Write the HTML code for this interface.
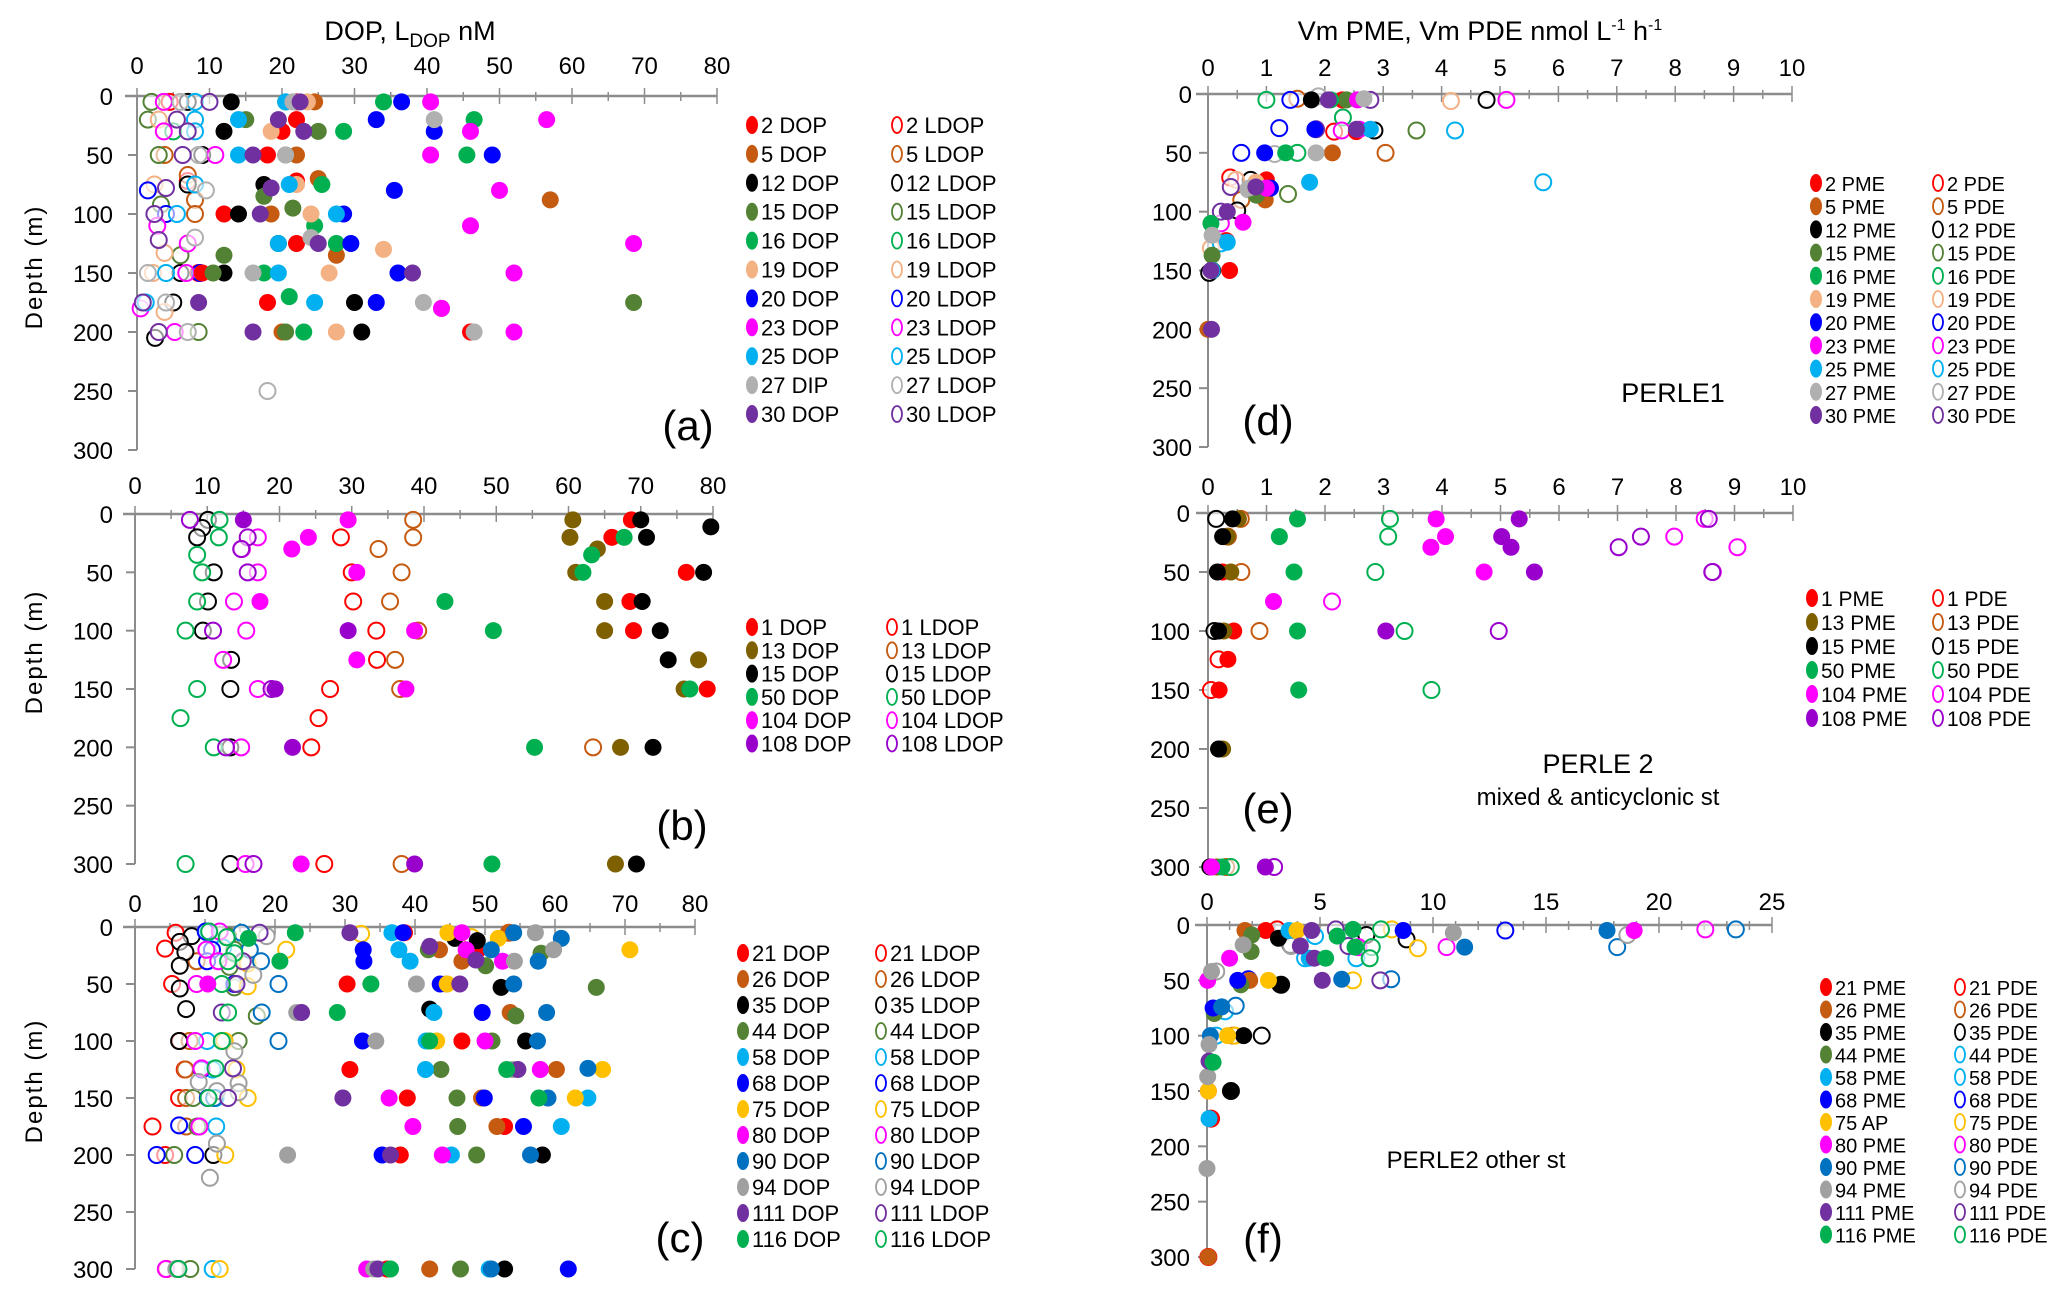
<!DOCTYPE html>
<html><head><meta charset="utf-8">
<style>
html,body{margin:0;padding:0;background:#fff;}
svg{display:block;font-family:"Liberation Sans",Arial,sans-serif;}
</style></head>
<body>
<svg id="chart" width="2067" height="1296" viewBox="0 0 2067 1296" xmlns="http://www.w3.org/2000/svg">
<rect width="2067" height="1296" fill="#fff"/>
<text x="410" y="40" font-size="27" text-anchor="middle">DOP, L<tspan font-size="19" dy="7">DOP</tspan><tspan dy="-7"> nM</tspan></text>
<text x="1480" y="40" font-size="27" text-anchor="middle">Vm PME, Vm PDE nmol L<tspan font-size="16" dy="-10">-1</tspan><tspan dy="10"> h</tspan><tspan font-size="16" dy="-10">-1</tspan></text>
<text x="1673" y="402" font-size="27" text-anchor="middle">PERLE1</text>
<text x="1598" y="773" font-size="27" text-anchor="middle">PERLE 2</text>
<text x="1598" y="805" font-size="24" text-anchor="middle">mixed &amp; anticyclonic st</text>
<text x="1476" y="1168" font-size="24" text-anchor="middle">PERLE2 other st</text>
<g id="plots"></g>
</svg>
<script>
// ---------- Panel (a) data: [depth, value] ----------
const A_NAMES = ["2","5","12","15","16","19","20","23","25","27","30"];
const A_DOP = [
 [[5,22],[20,22],[30,20],[50,18],[72,22],[100,12],[125,22],[150,9],[175,18],[200,46]],
 [[5,24.5],[50,22],[70,25],[88,57],[100,18.5],[135,27.5],[180,42],[200,20]],
 [[5,13],[30,12],[75,17.5],[100,14],[125,19.5],[150,12],[175,30],[200,31]],
 [[5,20.5],[20,15],[30,25],[50,20.5],[85,17.5],[95,21.5],[135,12],[150,10.5],[175,68.5],[200,20.5]],
 [[5,34],[20,46.5],[30,28.5],[50,45.5],[75,25.5],[110,24.5],[125,27.5],[150,17.5],[170,21],[200,23]],
 [[5,23.5],[30,18.5],[75,22],[100,24],[130,34],[150,26.5],[200,27.5]],
 [[5,36.5],[20,33],[30,41],[50,49],[80,35.5],[100,28.5],[125,29.5],[150,36],[175,33]],
 [[5,40.5],[20,56.5],[30,46],[50,40.5],[80,50],[110,46],[125,68.5],[150,52],[180,42],[200,52]],
 [[5,20.5],[20,14],[50,14],[75,21],[100,27.5],[125,19.5],[150,19.5],[175,24.5]],
 [[5,21.5],[20,41],[50,20.5],[120,24],[150,16],[175,39.5],[200,46.5]],
 [[5,22.5],[20,19.5],[30,23],[50,16],[78,18.5],[100,17],[125,25],[150,38],[175,8.5],[200,16]]
];
const A_LDOP = [
 [[5,4.5],[72,7],[150,8.5]],
 [[67,7],[88,8],[100,8],[50,3.8]],
 [[5,7],[75,7],[175,5],[205,2.5],[150,6],[50,9]],
 [[20,1.5],[50,3],[92,3.3],[135,6],[5,2],[200,8.5]],
 [[30,5]],
 [[20,3],[75,2.4],[133,3.8],[183,3.8],[150,2.2]],
 [[80,1.5],[100,4],[150,8.7]],
 [[5,3.7],[30,3.7],[50,10.8],[110,2.8],[125,7],[150,6.8],[180,0.5],[200,5.2]],
 [[5,8],[20,8],[30,8],[75,8],[100,5.5],[150,4],[175,1.2]],
 [[5,6],[50,8.5],[80,9.5],[120,8],[150,1.5],[175,4],[200,7],[250,18]],
 [[5,10],[20,5.5],[30,7],[50,6.3],[78,4],[100,2.4],[122,3],[175,0.8],[200,3]]
];
// ---------- Panel (b) ----------
const B_NAMES = ["1","13","15","50","104","108"];
const B_DOP = [
 [[5,68.7],[20,66],[50,76.3],[75,68.5],[100,69],[150,79.2]],
 [[5,60.6],[20,60.2],[30,64],[50,61],[75,65],[100,65],[125,78],[150,76],[200,67.2],[300,66.5]],
 [[5,70],[11,79.7],[20,70.8],[50,78.7],[75,70.2],[100,72.7],[125,73.8],[200,71.7],[300,69.4]],
 [[20,67.7],[35,63.2],[50,62],[75,42.9],[100,49.6],[150,76.8],[200,55.3],[300,49.4]],
 [[5,29.5],[20,24],[30,21.7],[50,30.7],[75,17.3],[100,38.7],[125,30.7],[150,37.5],[300,23]],
 [[5,15],[100,29.5],[150,19.4],[200,21.8],[300,38.7]]
];
const B_LDOP = [
 [[20,28.5],[50,30],[75,30.2],[100,33.4],[125,33.5],[150,27],[175,25.4],[200,24.4],[300,26.2]],
 [[5,38.5],[20,38.5],[30,33.7],[50,36.9],[75,35.3],[100,39.2],[125,36],[150,36.7],[200,63.4],[300,36.9]],
 [[5,10.1],[12,9.3],[20,8.6],[50,10.9],[75,10.1],[100,9.4],[125,13.3],[150,13.2],[200,13.2],[300,13.2]],
 [[5,11.7],[20,11.6],[35,8.6],[50,9.3],[75,8.6],[100,7],[150,8.6],[175,6.3],[200,10.9],[300,7]],
 [[20,17],[30,14.8],[50,17],[75,13.7],[100,15.4],[125,12.2],[150,17],[200,14.7],[300,15.3]],
 [[5,7.6],[20,15.6],[30,14.7],[50,15.6],[100,10.8],[150,18.9],[200,12.6],[300,16.4]]
];
// ---------- Panel (c) ----------
const C_NAMES = ["21","26","35","44","58","68","75","80","90","94","111","116"];
const C_DOP = [
 [[5,38.5],[20,49],[50,30.3],[100,46.7],[125,30.7],[150,38.9],[175,52.8],[200,37.9],[300,36]],
 [[20,43.5],[30,46.7],[50,44.5],[75,53.6],[125,60.2],[150,49.5],[175,51.7],[300,42.1],[5,53.6]],
 [[10,45.7],[12,48.9],[53,52.3],[72,42.1],[100,55.8],[200,58.2],[300,52.8]],
 [[20,41.9],[34,50.1],[53,65.9],[78,54.4],[100,51],[125,43.7],[150,46],[175,46.1],[200,48.8],[300,46.5],[23,58]],
 [[5,36.7],[20,37.7],[30,39.3],[75,42.7],[100,41.6],[125,41.5],[150,64.7],[175,60.9],[200,45.2],[300,50.6]],
 [[5,38.3],[20,32.6],[30,32.7],[50,43.6],[75,49.6],[100,32.5],[150,49.9],[175,55.5],[200,35.3],[300,61.9]],
 [[5,44.7],[10,51.9],[20,70.7],[50,44.6],[100,43.1],[125,66.8],[150,62.9]],
 [[5,46.7],[20,47.3],[30,52.5],[50,10.4],[100,50],[125,57.9],[150,36.3],[175,39.7],[200,43.9],[300,33.1]],
 [[5,54.1],[10,60.9],[20,50.9],[30,57.6],[50,54.1],[75,58.8],[100,57.5],[124,64.7],[150,59],[200,56.5],[300,50.9]],
 [[5,57.2],[20,59.8],[30,54.2],[50,40.2],[75,23.1],[100,34.4],[125,54],[200,21.8],[300,34.1]],
 [[5,30.7],[17,42.1],[29,48.7],[50,46.4],[75,23.8],[125,54.7],[150,29.7],[200,36.5],[300,34.7]],
 [[5,22.9],[10,16.2],[30,20.7],[50,33.7],[75,28.9],[100,42.1],[125,53.1],[150,57.7],[300,36.5]]
];
const C_LDOP = [
 [[5,5.8],[19,4.3],[50,5.3],[100,6.4],[125,7.1],[150,6.3],[175,2.5],[200,4.3],[300,4.5]],
 [[30,8.8],[100,7.8],[125,7.2],[150,7.3],[175,7.3],[5,53.4]],
 [[8,8.1],[13,6.4],[22,7.2],[34,6.4],[54,6.4],[72,7.3],[100,6.3],[200,11.2],[300,6.2]],
 [[8,13.3],[20,14.2],[35,13.5],[53,14.2],[78,17.4],[100,14.8],[150,8.3],[175,8.9],[200,5.6],[300,7.9]],
 [[5,10.4],[18,12.6],[100,10.3],[125,11.1],[150,11.5],[175,11.6],[300,11.1]],
 [[4,10.1],[20,11],[30,10.3],[50,14.2],[125,9.5],[150,10.4],[174,6.3],[200,3.1],[200,8.6]],
 [[6,32.3],[9,48.1],[20,21.6],[32,16.1],[52,16.1],[100,12.8],[125,14.5],[150,16.1],[200,12.9],[300,12.1]],
 [[4,12.1],[20,10.2],[30,11.9],[50,8.8],[100,8.6],[124,9.5],[175,9.2],[300,4.4]],
 [[5,15.2],[20,16.4],[30,18],[50,20.5],[75,18.1],[100,20.5],[150,11.3]],
 [[8,18.8],[42,16.9],[109,14.2],[136,9.1],[137,14.8],[144,11.7],[145,14.8],[190,11.7],[220,10.7],[300,5.9]],
 [[5,17.8],[30,15.4],[50,14.5],[75,12.4],[124,14],[150,13.3]],
 [[4,10.6],[9,13.1],[23,14.2],[30,13.3],[50,12.4],[75,13.3],[100,12.4],[124,11.5],[150,10.5],[300,6.2]]
];
// ---------- Panel (d) ----------
const D_NAMES = A_NAMES;
const D_PME = [
 [[5,2.3],[73,1],[150,0.37],[32,2.54]],
 [[50,2.13],[90,0.98],[200,0]],
 [[5,1.77],[150,0.08]],
 [[5,2.37],[86,0.83],[137,0.07]],
 [[5,2.1],[50,1.33],[110,0.05]],
 [[75,0.82]],
 [[30,1.83],[50,0.97],[80,1.07]],
 [[5,2.56],[30,2.6],[80,1],[109,0.6]],
 [[30,2.78],[75,1.74],[126,0.33],[150,0.07]],
 [[4,2.67],[50,1.85],[80,0.7],[120,0.07]],
 [[5,2.06],[30,2.54],[79,0.82],[100,0.33],[150,0.05],[200,0.06]]
];
const D_PDE = [
 [[32,2.16],[71,0.38],[125,0.31]],
 [[4,1.53],[50,3.04],[90,0.57]],
 [[5,4.77],[31,2.85],[73,0.73],[99,0.5],[152,0.02]],
 [[31,3.57],[85,1.37]],
 [[5,1],[20,2.31],[50,1.53]],
 [[6,4.16],[73,0.48],[131,0.05]],
 [[5,1.41],[29,1.22],[50,0.57]],
 [[5,5.11],[31,2.29],[110,0.22]],
 [[31,4.23],[75,5.74],[127,0.22]],
 [[2,1.89],[51,1.14],[81,0.69]],
 [[5,2.78],[30,1.85],[79,0.39],[100,0.22]]
];
// ---------- Panel (e) ----------
const E_NAMES = B_NAMES;
const E_PME = [
 [[100,0.44],[124,0.34],[150,0.19],[300,0.06],[50,0.25]],
 [[5,0.52],[20,0.33],[50,0.39],[100,0.27],[200,0.25],[300,0.15]],
 [[5,0.42],[20,0.25],[50,0.16],[100,0.18],[200,0.18],[300,0.03]],
 [[5,1.53],[20,1.22],[50,1.47],[100,1.53],[150,1.55],[300,0.24]],
 [[5,3.9],[20,4.06],[29,3.81],[50,4.72],[75,1.12],[300,0.06]],
 [[5,5.32],[20,5.02],[29,5.18],[50,5.58],[100,3.04],[300,0.98]]
];
const E_PDE = [
 [[124,0.18],[150,0.05]],
 [[5,0.56],[20,0.34],[50,0.57],[100,0.88],[300,0.31]],
 [[5,0.14],[100,0.11]],
 [[5,3.11],[20,3.08],[50,2.86],[100,3.36],[150,3.82],[300,0.39]],
 [[5,8.49],[20,7.97],[29,9.05],[50,8.63],[75,2.12]],
 [[5,8.56],[20,7.4],[29,7.02],[50,8.62],[100,4.97],[300,1.13]]
];
// ---------- Panel (f) ----------
const F_NAMES = C_NAMES;
const F_PME = [
 [[5,2.6],[175,0.12],[300,0.06],[150,0.06]],
 [[5,1.68],[50,1.89],[300,0.06]],
 [[12,3.16],[54,3.22],[100,1.62],[150,1.06]],
 [[9,1.98],[24,1.95],[54,1.5],[80,0.32]],
 [[5,3.63],[30,4.52],[175,0.09]],
 [[5,8.68],[50,1.36],[75,0.27]],
 [[5,3.98],[50,2.72],[100,0.91],[150,0.06]],
 [[5,18.9],[30,1],[50,0.03]],
 [[5,17.7],[20,11.4],[49,5.96],[74,0.65],[100,0.15]],
 [[7,10.9],[18,1.6],[42,0.2],[108,0.09],[137,0.03],[220,0]],
 [[5,4.63],[19,4.13],[30,4.75],[50,5.1],[123,0.09]],
 [[4,6.46],[10,5.76],[20,6.55],[30,5.25],[124,0.27]]
];
const F_PDE = [
 [[4,3.1],[175,0.18],[300,0.06]],
 [[100,1.15]],
 [[9,7.05],[13,8.83],[18,3.69],[54,3.28],[100,2.42],[150,1.06]],
 [[10,4.78],[30,6.61],[100,0.41]],
 [[30,4.34],[78,0.8]],
 [[5,13.2],[49,1.83]],
 [[4,8.18],[21,9.33],[50,6.46],[100,1.24]],
 [[4,22.05],[20,10.6],[20,6.7]],
 [[4,23.4],[20,18.15],[49,8.15],[73,1.27]],
 [[9,18.6],[19,3.72],[42,0.41]],
 [[4,5.7],[19,6.26],[50,7.67]],
 [[4,7.7],[20,7.29],[30,7.2]]
];
const X_TICKS_DOP = [0,10,20,30,40,50,60,70,80];
const X_TICKS_VM = [0,1,2,3,4,5,6,7,8,9,10];
const X_TICKS_F = [0,5,10,15,20,25];
const Y_TICKS = [0,50,100,150,200,250,300];

const COL_A = ["#ff0000","#c55a11","#000000","#548235","#00b050","#f4b183","#0000ff","#ff00ff","#00b0f0","#b0b0b0","#7030a0"];
const COL_B = ["#ff0000","#7f6000","#000000","#00b050","#ff00ff","#9900cc"];
const COL_B_OPEN = ["#ff0000","#c55a11","#000000","#00b050","#ff00ff","#9900cc"];
const COL_C = ["#ff0000","#c55a11","#000000","#548235","#00b0f0","#0000ff","#ffc000","#ff00ff","#0070c0","#a0a0a0","#7030a0","#00b050"];
const COL_F_OPEN = ["#ff0000","#c55a11","#000000","#00b0f0","#00b0f0","#0000ff","#ffc000","#ff00ff","#0070c0","#a0a0a0","#7030a0","#00b050"];

const NS = "http://www.w3.org/2000/svg";
const root = document.getElementById('plots');
function mk(tag, attrs, parent){
  const e = document.createElementNS(NS, tag);
  for (const k in attrs) e.setAttribute(k, attrs[k]);
  (parent||root).appendChild(e);
  return e;
}
function panel(p){
  const g = mk('g', {});
  
  
  const sx = v => p.x0 + (v - 0) / p.xmax * (p.x1 - p.x0);
  const sy = d => p.y0 + d / 300 * (p.y1 - p.y0);
  const ya = mk('line', {x1:p.x0, y1:p.y0, x2:p.x0, y2:p.y1, stroke:'#8c8c8c', 'stroke-width':2}, g);
  
  
  Y_TICKS.forEach(t => {
    mk('line', {x1:p.x0-9, y1:sy(t), x2:p.x0, y2:sy(t), stroke:'#8c8c8c', 'stroke-width':2}, g);
    const tl = mk('text', {x:p.ylx, y:sy(t)+9, 'font-size':24, 'text-anchor':'end'}, g);
    tl.textContent = t;
    
    
  });
  const xa = mk('line', {x1:p.x0-12, y1:p.y0, x2:p.x1, y2:p.y0, stroke:'#8c8c8c', 'stroke-width':2.5}, g);
  
  
  const n = p.ticks.length - 1, step = p.ticks[1]-p.ticks[0];
  for (let i = 0; i <= n*p.minor; i++){
    const v = i*step/p.minor, major = i % p.minor === 0;
    mk('line', {x1:sx(v), y1:p.y0-(major?8:4), x2:sx(v), y2:p.y0+(major?8:5), stroke:'#8c8c8c', 'stroke-width':1.5}, g);
  }
  p.ticks.forEach(t => {
    const tl = mk('text', {x:sx(t), y:p.xly, 'font-size':24, 'text-anchor':'middle'}, g);
    tl.textContent = t;
    
    
  });
  if (p.depthY){
    const dl = mk('text', {x:0, y:0, 'font-size':24, 'text-anchor':'middle', 'letter-spacing':'2', transform:`translate(42,${p.depthY}) rotate(-90)`}, g);
    dl.textContent = 'Depth (m)';
    
    
  }
  const pl = mk('text', {x:p.lblX, y:p.lblY, 'font-size':42, 'text-anchor':'middle'}, g);
  pl.textContent = '(' + p.id + ')';
  
  
  p.open.forEach((ser, si) => ser.forEach(([d,v]) => {
    const c = mk('circle', {cx:sx(v), cy:sy(d), r:8, fill:'#fff', 'fill-opacity':0.6, stroke:p.ocol[si], 'stroke-width':2}, g);
    
    
  }));
  p.fill.forEach((ser, si) => ser.forEach(([d,v]) => {
    const c = mk('circle', {cx:sx(v), cy:sy(d), r:8.5, fill:p.fcol[si]}, g);
    
    
  }));
  p.names.forEach((nm, i) => {
    const y = p.legY + i*p.legDy;
    const fc = mk('ellipse', {cx:p.legX1, cy:y, rx:6, ry:9, fill:p.fcol[i]}, g);
    
    
    const ft = mk('text', {x:p.legX1+9, y:y+8, 'font-size':p.legFs}, g);
    ft.textContent = nm + ' ' + (p.fLabs ? p.fLabs[i] : p.fLab);
    
    
    const oc = mk('ellipse', {cx:p.legX2, cy:y, rx:5, ry:8, fill:'none', stroke:p.ocol[i], 'stroke-width':1.8}, g);
    
    
    const ot = mk('text', {x:p.legX2+9, y:y+8, 'font-size':p.legFs}, g);
    ot.textContent = nm + ' ' + p.oLab;
    
    
  });
}
const A_FLABS = A_NAMES.map(n => n === "27" ? "DIP" : "DOP");
const F_FLABS = F_NAMES.map(n => n === "75" ? "AP" : "PME");
panel({id:'a', x0:137, x1:717, xmax:80, y0:96, y1:450, ticks:X_TICKS_DOP, minor:2, xly:74, ylx:113, depthY:267,
  lblX:688, lblY:440, names:A_NAMES, fill:A_DOP, open:A_LDOP, fcol:COL_A, ocol:COL_A, fLab:'DOP', fLabs:A_FLABS, oLab:'LDOP',
  legX1:752, legX2:897, legY:125, legDy:28.9, legFs:22});
panel({id:'b', x0:135, x1:713, xmax:80, y0:514, y1:864, ticks:X_TICKS_DOP, minor:2, xly:494, ylx:113, depthY:652,
  lblX:682, lblY:840, names:B_NAMES, fill:B_DOP, open:B_LDOP, fcol:COL_B, ocol:COL_B_OPEN, fLab:'DOP', oLab:'LDOP',
  legX1:752, legX2:892, legY:627, legDy:23.3, legFs:22});
panel({id:'c', x0:135, x1:695, xmax:80, y0:927, y1:1269, ticks:X_TICKS_DOP, minor:2, xly:912, ylx:113, depthY:1081,
  lblX:680, lblY:1252, names:C_NAMES, fill:C_DOP, open:C_LDOP, fcol:COL_C, ocol:COL_C, fLab:'DOP', oLab:'LDOP',
  legX1:743, legX2:881, legY:953, legDy:26, legFs:22});
panel({id:'d', x0:1208, x1:1792, xmax:10, y0:94, y1:447, ticks:X_TICKS_VM, minor:2, xly:76, ylx:1192, depthY:null,
  lblX:1268, lblY:435, names:D_NAMES, fill:D_PME, open:D_PDE, fcol:COL_A, ocol:COL_A, fLab:'PME', oLab:'PDE',
  legX1:1816, legX2:1938, legY:183, legDy:23.2, legFs:20});
panel({id:'e', x0:1208, x1:1793, xmax:10, y0:513, y1:867, ticks:X_TICKS_VM, minor:2, xly:495, ylx:1190, depthY:null,
  lblX:1268, lblY:823, names:E_NAMES, fill:E_PME, open:E_PDE, fcol:COL_B, ocol:COL_B_OPEN, fLab:'PME', oLab:'PDE',
  legX1:1812, legX2:1938, legY:598, legDy:24, legFs:21});
panel({id:'f', x0:1207, x1:1772, xmax:25, y0:925, y1:1257, ticks:X_TICKS_F, minor:5, xly:910, ylx:1190, depthY:null,
  lblX:1263, lblY:1253, names:F_NAMES, fill:F_PME, open:F_PDE, fcol:COL_C, ocol:COL_F_OPEN, fLab:'PME', fLabs:F_FLABS, oLab:'PDE',
  legX1:1826, legX2:1960, legY:987, legDy:22.5, legFs:20});
</script>
</body></html>
